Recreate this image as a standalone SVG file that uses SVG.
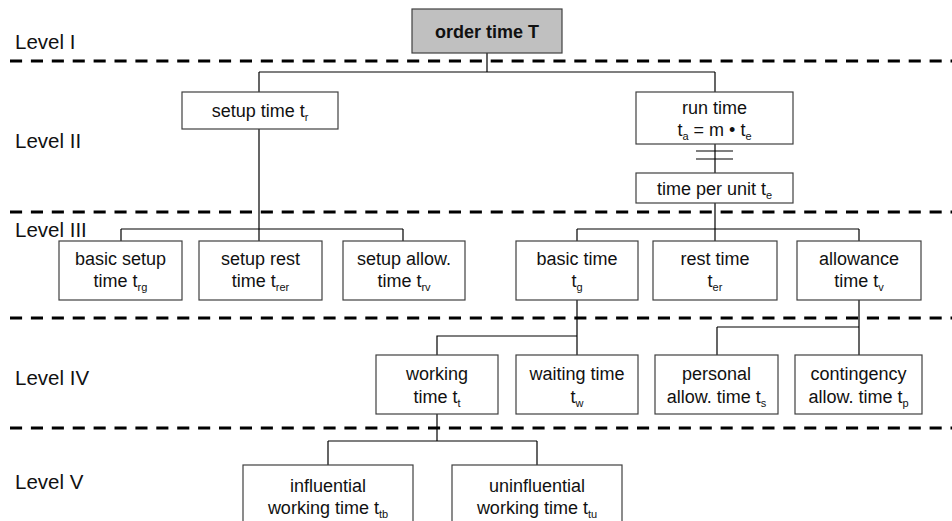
<svg xmlns="http://www.w3.org/2000/svg" width="952" height="521" viewBox="0 0 952 521">
<style>
.box{fill:#fff;stroke:#404040;stroke-width:1.2}
.t{font-family:"Liberation Sans",Arial,sans-serif;font-size:18px;fill:#111;text-anchor:middle}
.lv{font-family:"Liberation Sans",Arial,sans-serif;font-size:20.5px;fill:#111}
.s{font-size:11px}
.dash{stroke:#000;stroke-width:3;stroke-dasharray:12.1 8.8;fill:none}
.c{stroke:#000;stroke-width:1.2;fill:none}
</style>
<rect width="952" height="521" fill="#fff"/>
<g id="levels">
<line class="dash" x1="10" y1="61" x2="952" y2="61"/>
<line class="dash" x1="10" y1="212" x2="952" y2="212"/>
<line class="dash" x1="10" y1="318" x2="952" y2="318"/>
<line class="dash" x1="10" y1="428" x2="952" y2="428"/>
<text class="lv" x="15" y="49">Level I</text>
<text class="lv" x="15" y="148">Level II</text>
<text class="lv" x="15" y="237">Level III</text>
<text class="lv" x="15" y="385">Level IV</text>
<text class="lv" x="15" y="489">Level V</text>
</g>
<g id="connectors">
<path class="c" d="M487 53V72M259 72H715M259 72V92M715 72V92"/>
<path class="c" d="M259 129V241M121 229H403M121 229V241M403 229V241"/>
<path class="c" d="M715 144V173"/>
<path class="c" stroke="#404040" d="M696 151H733M696 159H733"/>
<path class="c" d="M715 203V241M577 229H859M577 229V241M859 229V241"/>
<path class="c" d="M577 300V336H437V355M577 336V355"/>
<path class="c" d="M859 300V355M717 327H859M717 327V355"/>
<path class="c" d="M437 414V441M328 441H537M328 441V465M537 441V465"/>
</g>
<g id="order">
<rect class="box" x="412" y="9" width="150" height="44" style="fill:#c0c0c0"/>
<text class="t" x="487" y="38" font-weight="bold">order time T</text>
</g>
<g id="setup">
<rect class="box" x="182" y="92" width="156" height="37"/>
<text class="t" x="260" y="117">setup time t<tspan class="s" dy="4">r</tspan></text>
</g>
<g id="runtime">
<rect class="box" x="636" y="92" width="157" height="52"/>
<text class="t" x="714.5" y="114">run time</text>
<text class="t" x="714.5" y="136">t<tspan class="s" dy="4">a</tspan><tspan dy="-4"> = m • t</tspan><tspan class="s" dy="4">e</tspan></text>
</g>
<g id="perunit">
<rect class="box" x="636" y="173" width="157" height="30"/>
<text class="t" x="714.5" y="195">time per unit t<tspan class="s" dy="4">e</tspan></text>
</g>
<g id="basicsetup">
<rect class="box" x="59" y="241" width="123" height="59"/>
<text class="t" x="120.5" y="265">basic setup</text>
<text class="t" x="120.5" y="287">time t<tspan class="s" dy="4">rg</tspan></text>
</g>
<g id="setuprest">
<rect class="box" x="199" y="241" width="123" height="59"/>
<text class="t" x="260.5" y="265">setup rest</text>
<text class="t" x="260.5" y="287">time t<tspan class="s" dy="4">rer</tspan></text>
</g>
<g id="setupallow">
<rect class="box" x="343" y="241" width="122" height="59"/>
<text class="t" x="404" y="265">setup allow.</text>
<text class="t" x="404" y="287">time t<tspan class="s" dy="4">rv</tspan></text>
</g>
<g id="basictime">
<rect class="box" x="516" y="241" width="122" height="59"/>
<text class="t" x="577" y="265">basic time</text>
<text class="t" x="577" y="287">t<tspan class="s" dy="4">g</tspan></text>
</g>
<g id="resttime">
<rect class="box" x="653" y="241" width="124" height="59"/>
<text class="t" x="715" y="265">rest time</text>
<text class="t" x="715" y="287">t<tspan class="s" dy="4">er</tspan></text>
</g>
<g id="allowance">
<rect class="box" x="797" y="241" width="124" height="59"/>
<text class="t" x="859" y="265">allowance</text>
<text class="t" x="859" y="287">time t<tspan class="s" dy="4">v</tspan></text>
</g>
<g id="working">
<rect class="box" x="376" y="355" width="122" height="59"/>
<text class="t" x="437" y="380">working</text>
<text class="t" x="437" y="403">time t<tspan class="s" dy="4">t</tspan></text>
</g>
<g id="waiting">
<rect class="box" x="516" y="355" width="122" height="59"/>
<text class="t" x="577" y="380">waiting time</text>
<text class="t" x="577" y="403">t<tspan class="s" dy="4">w</tspan></text>
</g>
<g id="personal">
<rect class="box" x="655" y="355" width="123" height="59"/>
<text class="t" x="716.5" y="380">personal</text>
<text class="t" x="716.5" y="403">allow. time t<tspan class="s" dy="4">s</tspan></text>
</g>
<g id="contingency">
<rect class="box" x="795" y="355" width="127" height="59"/>
<text class="t" x="858.5" y="380">contingency</text>
<text class="t" x="858.5" y="403">allow. time t<tspan class="s" dy="4">p</tspan></text>
</g>
<g id="influential">
<rect class="box" x="243" y="465" width="170" height="70"/>
<text class="t" x="328" y="492">influential</text>
<text class="t" x="328" y="514">working time t<tspan class="s" dy="4">tb</tspan></text>
</g>
<g id="uninfluential">
<rect class="box" x="452" y="465" width="170" height="70"/>
<text class="t" x="537" y="492">uninfluential</text>
<text class="t" x="537" y="514">working time t<tspan class="s" dy="4">tu</tspan></text>
</g>
</svg>
